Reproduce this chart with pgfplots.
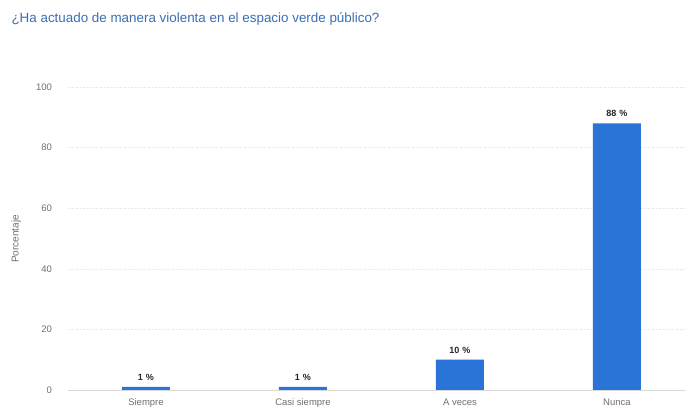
\documentclass[border=0pt]{standalone}
\usepackage{pgfplots}
\pgfplotsset{compat=1.18}
\usepackage{fontspec}
\setmainfont{Liberation Sans}
\definecolor{barblue}{HTML}{2A74D8}
\definecolor{titleblue}{HTML}{3A6FB5}
\definecolor{tickgray}{HTML}{707070}
\begin{document}
\begin{tikzpicture}
\useasboundingbox (0,0) rectangle (686pt,409pt);
\fill[white] (0,0) rectangle (686pt,409pt);
\node[anchor=west, text=titleblue, font=\fontsize{13.4}{15}\selectfont] at (8pt,390pt) {¿Ha actuado de manera violenta en el espacio verde público?};
\node[rotate=90, text=tickgray, font=\fontsize{10}{12}\selectfont] at (16pt,170pt) {Porcentaje};
\begin{axis}[
  at={(67.5pt,19pt)}, anchor=south west,
  scale only axis, width=618.5pt, height=303pt,
  xmin=-0.5, xmax=3.44, ymin=0, ymax=100,
  ybar, bar width=48pt,
  axis line style={draw=none},
  axis x line*=bottom,
  xtick={0,1,2,3},
  xticklabels={Siempre,Casi siempre,A veces,Nunca},
  ytick={0,20,40,60,80,100},
  major tick length=0pt,
  tick label style={text=tickgray, font=\fontsize{9.5}{11}\selectfont},
  /pgf/number format/assume math mode=true,
  xticklabel style={yshift=-5pt},
  yticklabel style={xshift=-12pt},
  ymajorgrids, grid style={draw=black!12, dotted},
  nodes near coords={\textbf{\pgfmathprintnumber{\pgfplotspointmeta}\,\,\%}},
  every node near coord/.append style={font=\fontsize{9}{10}\selectfont, text=black!85, yshift=3pt},
  clip=false,
]
\addplot[fill=barblue, draw=none] coordinates {(0,1) (1,1) (2,10) (3,88)};
\draw[black!15] (axis cs:-0.5,0) -- (axis cs:3.44,0);
\end{axis}
\end{tikzpicture}
\end{document}
